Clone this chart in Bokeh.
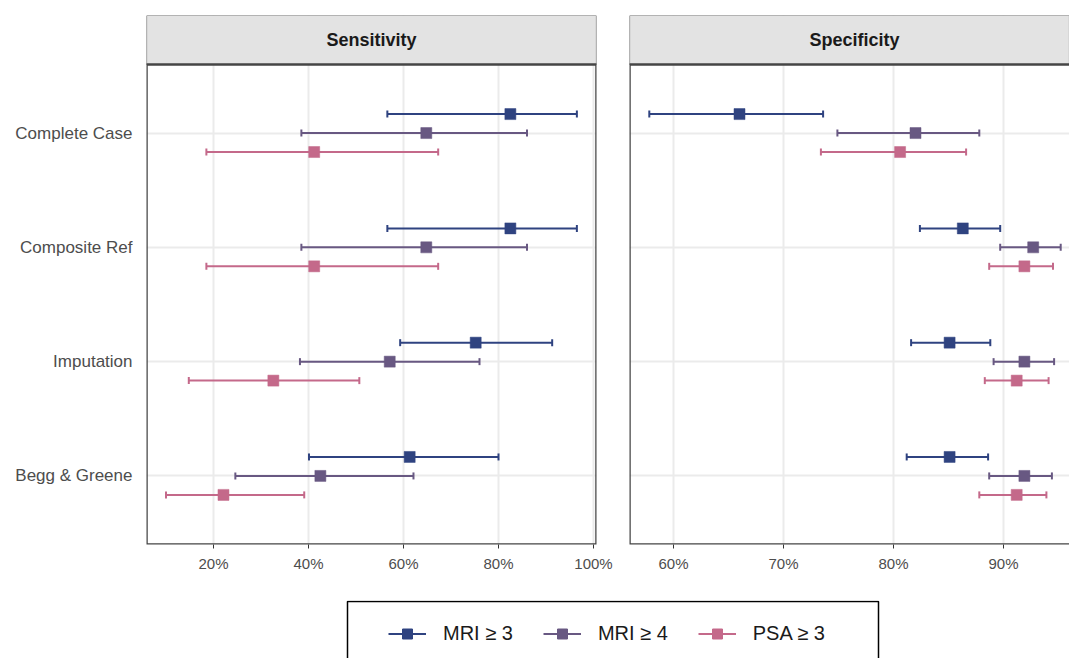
from bokeh.plotting import figure
from bokeh.models import (Range1d, FixedTicker, PrintfTickFormatter, BoxAnnotation, Label,
                          Whisker, TeeHead, ColumnDataSource, Legend, LegendItem)
from bokeh.layouts import row, column
from bokeh.embed import file_html
from bokeh.resources import INLINE

# ---------------- data ----------------
categories = ["Complete Case", "Composite Ref", "Imputation", "Begg & Greene"]
series = ["MRI \u2265 3", "MRI \u2265 4", "PSA \u2265 3"]
colors = ["#2F4380", "#685882", "#C4698A"]

sens_mri3_est = [82.5, 82.5, 75.2, 61.3]
sens_mri3_lo = [56.6, 56.6, 59.3, 40.1]
sens_mri3_hi = [96.5, 96.5, 91.3, 80.0]
sens_mri4_est = [64.8, 64.8, 57.1, 42.5]
sens_mri4_lo = [38.5, 38.5, 38.2, 24.6]
sens_mri4_hi = [86.0, 86.0, 76.0, 62.1]
sens_psa3_est = [41.2, 41.2, 32.6, 22.1]
sens_psa3_lo = [18.5, 18.5, 14.8, 10.0]
sens_psa3_hi = [67.3, 67.3, 50.7, 39.1]

spec_mri3_est = [66.0, 86.3, 85.1, 85.1]
spec_mri3_lo = [57.8, 82.4, 81.6, 81.2]
spec_mri3_hi = [73.6, 89.7, 88.8, 88.6]
spec_mri4_est = [82.0, 92.7, 91.9, 91.9]
spec_mri4_lo = [74.9, 89.7, 89.1, 88.7]
spec_mri4_hi = [87.8, 95.2, 94.6, 94.4]
spec_psa3_est = [80.6, 91.9, 91.2, 91.2]
spec_psa3_lo = [73.4, 88.7, 88.3, 87.8]
spec_psa3_hi = [86.6, 94.5, 94.1, 93.9]

sens_ticks = [20, 40, 60, 80, 100]
spec_ticks = [60, 70, 80, 90]

sens_data = [(sens_mri3_est, sens_mri3_lo, sens_mri3_hi),
             (sens_mri4_est, sens_mri4_lo, sens_mri4_hi),
             (sens_psa3_est, sens_psa3_lo, sens_psa3_hi)]
spec_data = [(spec_mri3_est, spec_mri3_lo, spec_mri3_hi),
             (spec_mri4_est, spec_mri4_lo, spec_mri4_hi),
             (spec_psa3_est, spec_psa3_lo, spec_psa3_hi)]

# ---------------- style ----------------
FONT = "Liberation Sans"
n = len(categories)
base_y = [n - i for i in range(n)]          # Complete Case on top
dodge_step = 0.166
offsets = [dodge_step, 0.0, -dodge_step]
y_lo, y_hi = 0.4, n + 0.6
panel_px, strip_px = 480, 49
y_top = y_hi + (y_hi - y_lo) * strip_px / panel_px

H = 600
MB_TOP, MB_BOTTOM = 15, 56


def make_panel(title, data, x_start, x_end, ticks, width, mb_left, mb_right,
               show_y, label_x, clip_right):
    p = figure(width=width, height=H, x_range=Range1d(x_start, x_end),
               y_range=Range1d(y_lo, y_top), output_backend="svg",
               toolbar_location=None, title=None,
               min_border_left=mb_left, min_border_right=mb_right,
               min_border_top=MB_TOP, min_border_bottom=MB_BOTTOM)
    p.outline_line_color = None
    p.background_fill_color = "white"
    p.border_fill_color = "white"

    # grid
    p.xgrid.ticker = FixedTicker(ticks=ticks)
    p.ygrid.ticker = FixedTicker(ticks=base_y)
    p.grid.grid_line_color = "#EBEBEB"
    p.grid.grid_line_width = 2
    p.xgrid.minor_grid_line_color = None

    # x axis
    p.xaxis.ticker = FixedTicker(ticks=ticks)
    p.xaxis.formatter = PrintfTickFormatter(format="%d%%")
    p.xaxis.axis_line_color = None
    p.xaxis.major_tick_in = 0
    p.xaxis.major_tick_out = 4
    p.xaxis.major_tick_line_color = "#333333"
    p.xaxis.minor_tick_line_color = None
    p.xaxis.major_label_text_font = FONT
    p.xaxis.major_label_text_font_size = "15px"
    p.xaxis.major_label_text_color = "#4D4D4D"
    p.xaxis.major_label_standoff = 6

    # y axis
    p.yaxis.ticker = FixedTicker(ticks=base_y)
    p.yaxis.major_label_overrides = {y: c for y, c in zip(base_y, categories)}
    p.yaxis.axis_line_color = None
    p.yaxis.major_tick_in = 0
    p.yaxis.major_tick_out = 0
    p.yaxis.minor_tick_line_color = None
    p.yaxis.major_label_text_font = FONT
    p.yaxis.major_label_text_font_size = "17px"
    p.yaxis.major_label_text_color = "#4D4D4D"
    p.yaxis.major_label_standoff = 14
    p.yaxis.visible = show_y

    # data
    for (est, lo, hi), col, off in zip(data, colors, offsets):
        src = ColumnDataSource(dict(y=[b + off for b in base_y], est=est, lo=lo, hi=hi))
        w = Whisker(source=src, base="y", lower="lo", upper="hi", dimension="width",
                    line_color=col, line_width=2,
                    upper_head=TeeHead(size=7, line_color=col, line_width=2),
                    lower_head=TeeHead(size=7, line_color=col, line_width=2))
        p.add_layout(w)
        p.scatter(x="est", y="y", source=src, marker="square", size=11,
                  fill_color=col, line_color=col, line_alpha=0.5)

    # strip
    strip = BoxAnnotation(bottom=y_hi, fill_color="#E3E3E3", fill_alpha=1.0,
                          line_color="#6E6E6E", line_alpha=1.0, line_width=1.2)
    p.add_layout(strip)
    if clip_right:
        border = BoxAnnotation(top=y_hi, right=x_end + (x_end - x_start) * 0.05,
                               fill_alpha=0, line_color="#454545", line_alpha=1.0,
                               line_width=2.5)
    else:
        border = BoxAnnotation(top=y_hi, fill_alpha=0, line_color="#454545",
                               line_alpha=1.0, line_width=2.5)
    p.add_layout(border)
    p.add_layout(Label(x=label_x, y=(y_hi + y_top) / 2, text=title,
                       text_align="center", text_baseline="middle",
                       text_font=FONT, text_font_size="18px", text_font_style="bold",
                       text_color="#1A1A1A"))
    return p


# left panel: frame 146..596 -> 450px, 4.75 px per %
sens_start = 20 - 67 / 4.75
sens_end = sens_start + 450 / 4.75
p1 = make_panel("Sensitivity", sens_data, sens_start, sens_end, sens_ticks,
                width=621, mb_left=146, mb_right=25, show_y=True,
                label_x=(sens_start + sens_end) / 2, clip_right=False)

# right panel: frame 629..1069 (clipped), 11 px per %
spec_start = 60 - 44 / 11
spec_end = spec_start + 440 / 11
spec_full_end = spec_start + 450 / 11
p2 = make_panel("Specificity", spec_data, spec_start, spec_end, spec_ticks,
                width=448, mb_left=8, mb_right=0, show_y=False,
                label_x=(spec_start + spec_full_end) / 2, clip_right=True)

# legend strip
LW, LH = 1069, 58
p3 = figure(width=LW, height=LH, x_range=Range1d(0, LW), y_range=Range1d(0, LH),
            output_backend="svg", toolbar_location=None, title=None,
            min_border_left=0, min_border_right=0, min_border_top=0, min_border_bottom=0)
p3.axis.visible = False
p3.grid.visible = False
p3.outline_line_color = None
p3.quad(left=[347], right=[878], top=[57], bottom=[-10], fill_alpha=0,
        line_color="black", line_width=1.5)
items = []
for name, col in zip(series, colors):
    lr = p3.line(x=[-100, -90], y=[-100, -100], line_color=col, line_width=2)
    sr = p3.scatter(x=[-100], y=[-100], marker="square", size=10, fill_color=col, line_color=col)
    items.append(LegendItem(label=name, renderers=[lr, sr]))
legend = Legend(items=items, orientation="horizontal", location=(388, 12),
                glyph_width=38, glyph_height=25, label_standoff=17, spacing=30,
                padding=0, margin=0, border_line_alpha=0, background_fill_alpha=0,
                label_text_font=FONT, label_text_font_size="20px", label_text_color="#1A1A1A")
p3.add_layout(legend)

layout = column(row(p1, p2), p3)
open("out.html", "w").write(file_html(layout, INLINE))
